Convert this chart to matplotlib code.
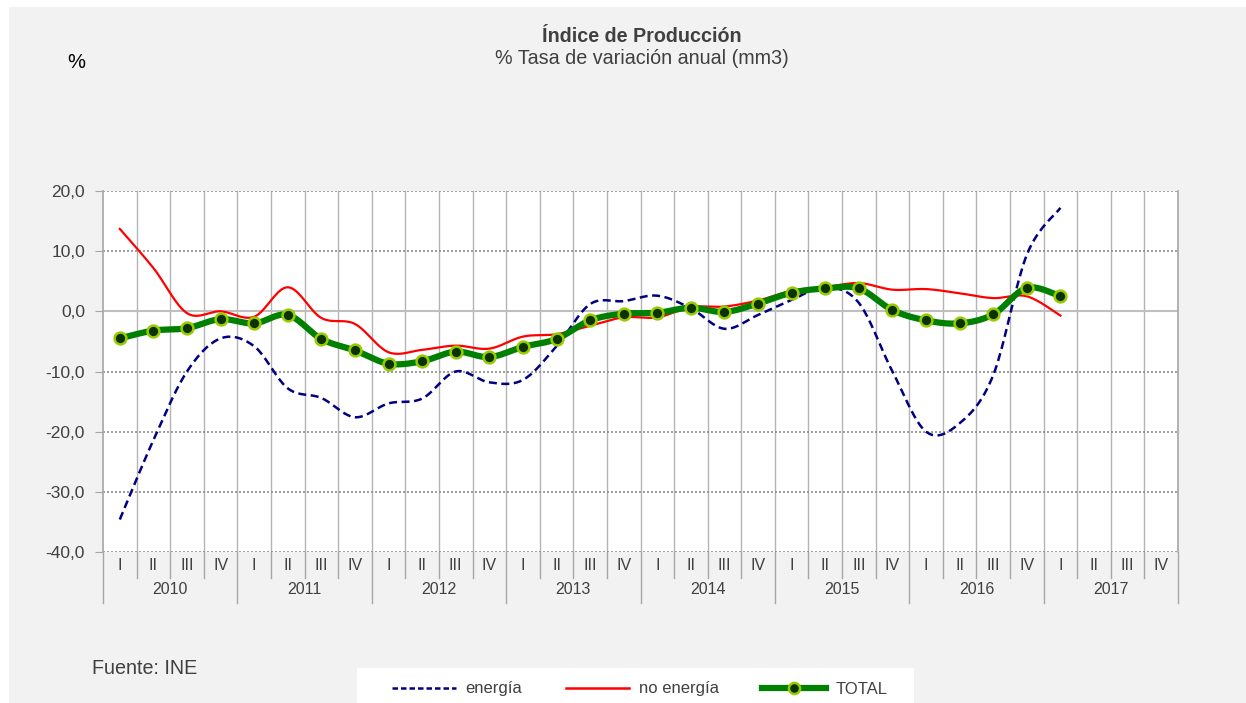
import numpy as np
import matplotlib
matplotlib.use("Agg")
import matplotlib.pyplot as plt
from matplotlib.lines import Line2D
from matplotlib.patches import Rectangle
import matplotlib.transforms as mtransforms

plt.rcParams['font.family'] = ['Liberation Sans', 'DejaVu Sans']

years = ['2010', '2011', '2012', '2013', '2014', '2015', '2016', '2017']
quarters = ['I', 'II', 'III', 'IV']

energia = [-34.6, -21.4, -10.0, -4.5, -5.8, -12.8, -14.4, -17.6,
           -15.3, -14.5, -10.0, -11.8, -11.4, -5.8, 1.2, 1.7,
           2.6, 0.5, -2.9, -0.6, 1.9, 4.0, 1.4, -10.0,
           -20.0, -18.6, -10.6, 9.4, 17.2]
no_energia = [13.7, 7.2, -0.3, 0.0, -0.9, 4.0, -1.1, -2.1,
              -6.8, -6.4, -5.7, -6.2, -4.2, -3.8, -2.4, -1.0,
              -1.0, 0.7, 0.8, 1.8, 3.4, 4.0, 4.7, 3.6,
              3.7, 3.0, 2.2, 2.5, -0.7]
total = [-4.5, -3.2, -2.8, -1.3, -2.0, -0.6, -4.6, -6.5,
         -8.7, -8.3, -6.7, -7.6, -5.9, -4.6, -1.5, -0.4,
         -0.25, 0.6, -0.1, 1.3, 3.1, 3.8, 3.8, 0.2,
         -1.5, -2.0, -0.5, 3.9, 2.5]


def smooth(xs, ys, n=20):
    # Catmull-Rom style smoothing (as in spreadsheet "smoothed line")
    xs = np.asarray(xs, float)
    ys = np.asarray(ys, float)
    P = np.column_stack([xs, ys])
    out = []
    for i in range(len(P) - 1):
        p0 = P[i - 1] if i > 0 else P[i]
        p1 = P[i]
        p2 = P[i + 1]
        p3 = P[i + 2] if i + 2 < len(P) else P[i + 1]
        c1 = p1 + (p2 - p0) / 6.0
        c2 = p2 - (p3 - p1) / 6.0
        t = np.linspace(0, 1, n, endpoint=(i == len(P) - 2))[:, None]
        b = ((1 - t) ** 3) * p1 + 3 * ((1 - t) ** 2) * t * c1 + 3 * (1 - t) * t ** 2 * c2 + t ** 3 * p2
        out.append(b)
    out = np.vstack(out)
    return out[:, 0], out[:, 1]


W, H = 1246, 703
fig = plt.figure(figsize=(W / 100, H / 100), dpi=100)
fig.patch.set_facecolor('white')
fig.patches.append(Rectangle((9 / W, 0), 1 - 9 / W, 1 - 7 / H, transform=fig.transFigure,
                             facecolor='#f2f2f2', edgecolor='none', zorder=-10))

left, right, top, bottom = 103, 1178, 191, 552
ax = fig.add_axes([left / W, 1 - bottom / H, (right - left) / W, (bottom - top) / H])
ax.set_facecolor('white')

nq = len(years) * 4
ax.set_xlim(0, nq)
ax.set_ylim(-40, 20)

# grid
for k in range(1, nq):
    ax.axvline(k, color='#b4b4b4', lw=1.0, zorder=1)
for v in [20, 10, -10, -20, -30, -40]:
    ax.axhline(v, color='#8c8c8c', lw=1.2, ls=(0, (1.2, 1.2)), zorder=1)
ax.axhline(0, color='#bfbfbf', lw=1.5, zorder=1)

for s in ['top', 'bottom']:
    ax.spines[s].set_visible(False)
ax.spines['left'].set_color('#a6a6a6')
ax.spines['right'].set_color('#a6a6a6')
ax.spines['left'].set_linewidth(1.2)
ax.spines['right'].set_linewidth(1.2)

ax.set_yticks([20, 10, 0, -10, -20, -30, -40])
ax.set_yticklabels(['20,0', '10,0', '0,0', '-10,0', '-20,0', '-30,0', '-40,0'])
ax.tick_params(axis='y', length=6, color='#a6a6a6', labelsize=12.5, labelcolor='#404040', pad=7)
ax.set_xticks([])

xs = np.arange(len(total)) + 0.5

ex, ey = smooth(xs, energia)
ax.plot(ex, ey, color='#000080', lw=1.8, ls=(0, (3.2, 1.8)), zorder=3)
nx, ny = smooth(xs, no_energia)
ax.plot(nx, ny, color='#ff0000', lw=1.6, zorder=3)
tx, ty = smooth(xs, total)
ax.plot(tx, ty, color='#008000', lw=4.5, zorder=4, solid_capstyle='round')
ax.plot(xs, total, ls='none', marker='o', ms=8.5, mfc='#0a3300', mec='#99cc00', mew=1.8, zorder=5)

# category axis
trans = mtransforms.blended_transform_factory(ax.transData, ax.transAxes)
h = bottom - top
y_q = -(566 - bottom) / h
y_y = -(590 - bottom) / h
y_qsep = -(578 - bottom) / h
y_ysep = -(603 - bottom) / h
for i in range(nq):
    ax.text(i + 0.5, y_q, quarters[i % 4], transform=trans, ha='center', va='center',
            fontsize=11.5, color='#404040')
for k in range(nq + 1):
    end = y_ysep if k % 4 == 0 else y_qsep
    ax.plot([k, k], [0, end], transform=trans, color='#a6a6a6', lw=1.0, clip_on=False)
for j, yr in enumerate(years):
    ax.text(j * 4 + 2, y_y, yr, transform=trans, ha='center', va='center',
            fontsize=11.5, color='#404040')

# titles
fig.text(642 / W, 1 - 36 / H, 'Índice de Producción', ha='center', va='center',
         fontsize=14.2, fontweight='bold', color='#404040')
fig.text(642 / W, 1 - 58 / H, '% Tasa de variación anual (mm3)', ha='center', va='center',
         fontsize=14.2, color='#404040')
fig.text(76 / W, 1 - 62 / H, '%', ha='center', va='center', fontsize=14.5, color='black')
fig.text(92 / W, 1 - 668 / H, 'Fuente: INE', ha='left', va='center', fontsize=14.2, color='#404040')

# legend
fig.patches.append(Rectangle((357 / W, 0), (914 - 357) / W, (703 - 668) / H, transform=fig.transFigure,
                             facecolor='white', edgecolor='none', zorder=-5))
handles = [
    Line2D([], [], color='#000080', lw=1.8, ls=(0, (2.2, 1.2))),
    Line2D([], [], color='#ff0000', lw=1.8),
    Line2D([], [], color='#008000', lw=4.5, marker='o', ms=8, mfc='#0a3300', mec='#99cc00', mew=1.8,
           markevery=[1]),
]
leg = fig.legend(handles, ['energía', 'no energía', 'TOTAL'], loc='center',
                 bbox_to_anchor=(640 / W, 1 - 689 / H), ncol=3, frameon=False,
                 fontsize=12, handlelength=3.8, columnspacing=2.6, handletextpad=0.6)
for t in leg.get_texts():
    t.set_color('#404040')

fig.savefig('out.png', dpi=100, facecolor=fig.get_facecolor())
